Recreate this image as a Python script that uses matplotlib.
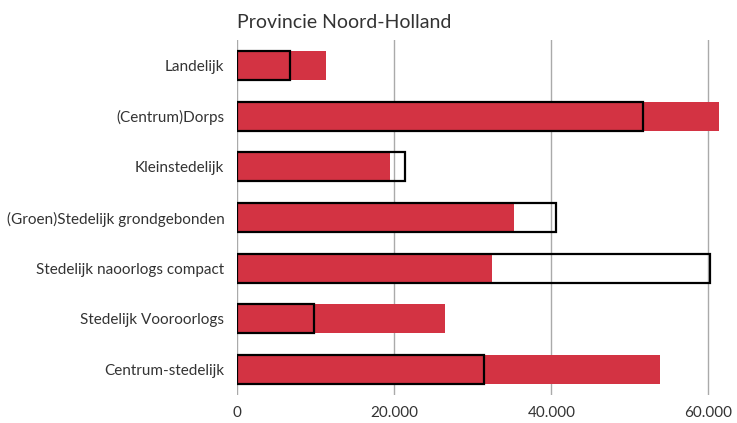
import matplotlib
matplotlib.use("Agg")
import matplotlib.pyplot as plt
from matplotlib.ticker import FuncFormatter

categories = ["Landelijk", "(Centrum)Dorps", "Kleinstedelijk",
              "(Groen)Stedelijk grondgebonden", "Stedelijk naoorlogs compact",
              "Stedelijk Vooroorlogs", "Centrum-stedelijk"]
red_values = [11300, 61300, 19500, 35200, 32500, 26500, 53800]
outline_values = [6800, 51700, 21400, 40600, 60200, 9800, 31400]
xticks = [0, 20000, 40000, 60000]
title = "Provincie Noord-Holland"

plt.rcParams['font.family'] = ['Lato', 'DejaVu Sans']

fig = plt.figure(figsize=(7.37, 4.23), dpi=100)
ax = fig.add_axes([237/737, 1-395/423, 499/737, 355/423])

y = list(range(len(categories)))
ax.barh(y, red_values, height=0.57, color="#d33343", zorder=2)
ax.barh(y, outline_values, height=0.57, facecolor="none", edgecolor="black",
        linewidth=1.6, zorder=3)

ax.set_ylim(len(categories)-0.5, -0.5)
ax.set_xlim(0, 63500)
ax.set_yticks(y)
ax.set_yticklabels(categories)
ax.set_xticks(xticks)
ax.xaxis.set_major_formatter(FuncFormatter(lambda v, p: f"{int(v):,}".replace(",", ".")))
ax.tick_params(length=0, labelsize=11, colors="#333333")
ax.tick_params(axis='y', pad=9)
ax.tick_params(axis='x', pad=8)
ax.grid(axis='x', color="#aaaaaa", linewidth=1, zorder=0)
ax.set_axisbelow(True)
for s in ax.spines.values():
    s.set_visible(False)

fig.text(237/737, 1-22/423, title, fontsize=14, color="#333333", va="center", ha="left")

fig.savefig("out.png", dpi=100)
